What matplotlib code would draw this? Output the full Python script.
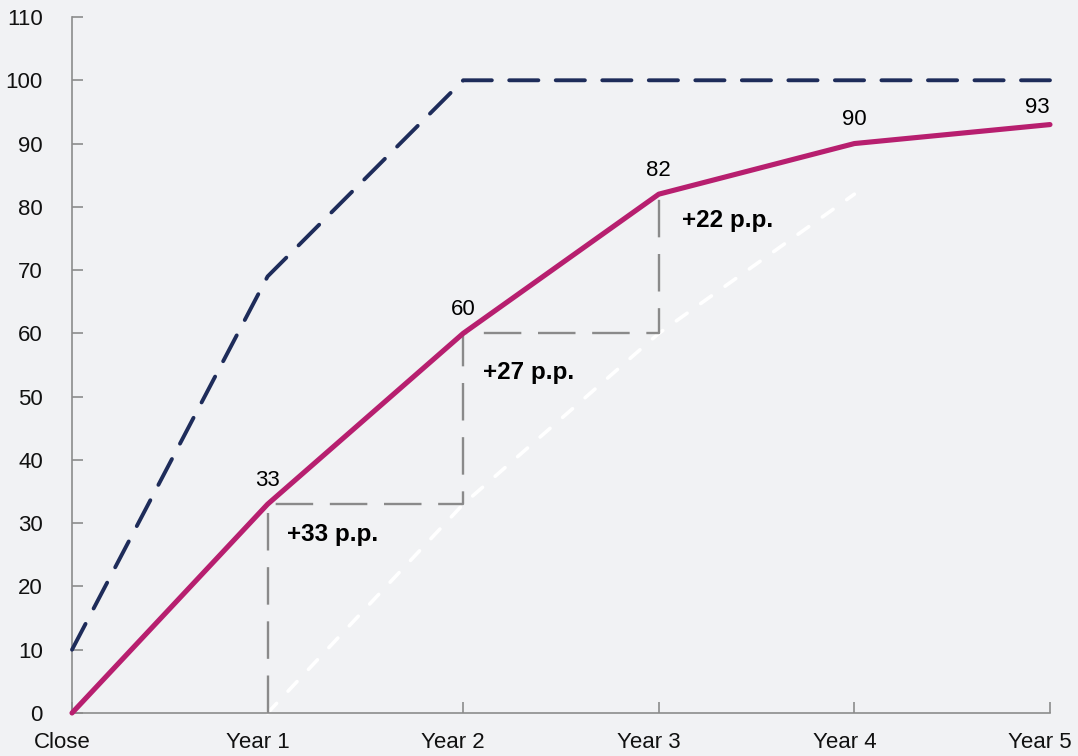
import matplotlib
matplotlib.use("Agg")
import matplotlib.pyplot as plt
import matplotlib.transforms as mtransforms

plt.rcParams['font.family'] = ['Liberation Sans', 'DejaVu Sans']
plt.rcParams['lines.scale_dashes'] = False

# ---- data ----
categories = ["Close", "Year 1", "Year 2", "Year 3", "Year 4", "Year 5"]
actual = [0, 33, 60, 82, 90, 93]          # pink solid line
target = [10, 69, 100, 100, 100, 100]     # navy dashed line
shifted = [0, 33, 60, 82]                 # previous-year curve, shifted by one year (white dashed)
y_ticks = [0, 10, 20, 30, 40, 50, 60, 70, 80, 90, 100, 110]

# ---- style ----
BG = "#f1f2f4"
PINK = "#b71f6f"
NAVY = "#1e2c5a"
GREY = "#8a8a8a"
SPINE = "#8c8c8c"

fig = plt.figure(figsize=(10.78, 7.56), dpi=100, facecolor=BG)
ax = fig.add_axes([0.0668, 0.0569, 0.9072, 0.9206], facecolor=BG)

x = list(range(len(categories)))

# white dashed shifted line
xs = x[1:1 + len(shifted)]
ax.plot(xs, shifted, color="white", lw=2.6, dashes=(9.5, 12),
        solid_capstyle="round", dash_capstyle="round", zorder=2, clip_on=False)

# grey step (increments)
step_x, step_y = [], []
for i in range(1, 4):
    step_x += [x[i], x[i]]
    step_y += [actual[i - 1], actual[i]]
    if i < 3:
        step_x.append(x[i + 1])
        step_y.append(actual[i])
ax.plot(step_x, step_y, color=GREY, lw=1.7, dashes=(27, 12), zorder=3, clip_on=False)

# navy dashed target
ax.plot(x, target, color=NAVY, lw=2.8, dashes=(21, 12.5),
        dash_capstyle="round", zorder=4, clip_on=False)

# pink actual
ax.plot(x, actual, color=PINK, lw=3.7, solid_capstyle="round", zorder=5, clip_on=False)

# data labels
for i in range(1, len(actual)):
    if i == len(actual) - 1:
        ax.annotate(str(actual[i]), (x[i], actual[i]), xytext=(0, 12.5),
                    textcoords="offset points", ha="right", va="center", fontsize=16)
    else:
        ax.annotate(str(actual[i]), (x[i], actual[i]), xytext=(0, 17.3),
                    textcoords="offset points", ha="center", va="center", fontsize=16)

# increment annotations
incr_offsets = [(14, -21.5), (14.5, -28), (16.5, -19)]
for k, i in enumerate(range(1, 4)):
    d = actual[i] - actual[i - 1]
    ax.annotate(f"+{d} p.p.", (x[i], actual[i]), xytext=incr_offsets[k],
                textcoords="offset points", ha="left", va="center",
                fontsize=17.5, fontweight="bold", color="black")

# axes
ax.set_xlim(0, 5)
ax.set_ylim(0, 110)
ax.set_xticks(x)
ax.set_xticklabels(categories)
ax.set_yticks(y_ticks)
ax.set_yticklabels([str(v) for v in y_ticks])

for s in ["top", "right"]:
    ax.spines[s].set_visible(False)
for s in ["left", "bottom"]:
    ax.spines[s].set_color(SPINE)
    ax.spines[s].set_linewidth(1.2)

ax.tick_params(axis="both", direction="in", length=8, width=1.2, color=SPINE,
               labelsize=16, labelcolor="#111111")
ax.tick_params(axis="y", pad=21)
ax.tick_params(axis="x", pad=14)

shift = mtransforms.ScaledTranslation(-10 / 100, 0, fig.dpi_scale_trans)
for lab in ax.get_xticklabels():
    lab.set_transform(lab.get_transform() + shift)

fig.savefig("out.png", dpi=100, facecolor=BG)
